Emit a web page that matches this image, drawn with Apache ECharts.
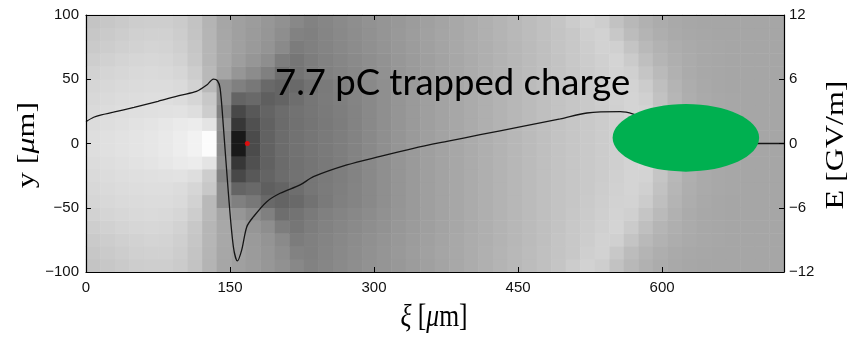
<!DOCTYPE html>
<html><head><meta charset="utf-8">
<script src="https://cdn.jsdelivr.net/npm/echarts@6/dist/echarts.min.js"></script>
<style>html,body{margin:0;padding:0;background:#fff;}#c{width:851px;height:341px;}</style>
</head><body><div id="c"></div>
<script>
// ---- data ----
const xiTicks = [0, 150, 300, 450, 600];
const yTicks = [-100, -50, 0, 50, 100];
const eTicks = [-12, -6, 0, 6, 12];
const xiMax = 727;

// on-axis field E (GV/m) vs xi (um)
const lineXi = [0, 8, 16, 28.5, 50, 75, 98, 115, 125.8, 132.7, 136.9, 139.7, 143.1, 148.3, 153.5, 157.7, 162.2, 167.5, 174.5, 188.3, 202.2, 223, 236.9, 271.7, 306.4, 341.1, 375.9, 410.6, 452, 494, 521.8, 556.5, 570, 600, 640, 680, 700, 727];
const lineE  = [2.04, 2.45, 2.68, 2.92, 3.38, 3.94, 4.5, 4.86, 5.46, 6.02, 5.86, 5.15, 1.57, -4.65, -9.64, -10.97, -9.94, -7.77, -6.83, -5.43, -4.65, -3.87, -3.1, -2.0, -1.2, -0.45, 0.2, 0.82, 1.55, 2.3, 2.85, 2.97, 2.75, 1.8, 0.6, 0.1, 0.0, 0.0];

// driver bunch (ellipse): centre xi, centre y, half length, half width (um)
const bunchXi = [624.8];
const bunchY = [4.4];
const bunchHalfLen = [76.3];
const bunchHalfWid = [26.3];

// trapped witness charge
const witnessXi = [168];
const witnessY = [0];
const annotation = '7.7 pC trapped charge';

// background field, grey level (0 black .. 255 white), 48 xi columns, rows by |y| (um)
const rowAbsY = [5, 15, 25, 35, 45, 55, 65, 75, 85, 95];
const field_y05 = [222,224,226,228,230,233,237,242,252,140,25,75,98,108,114,118,122,126,131,137,143,149,154,159,163,167,171,175,179,183,187,191,195,198,201,204,207,211,213,200,186,176,171,168,167,166,166,166];
const field_y15 = [220,222,224,226,228,231,234,236,228,145,55,80,97,107,113,117,121,125,131,137,143,149,154,159,163,167,171,175,179,183,187,191,195,198,201,204,207,211,213,200,186,176,171,168,167,166,166,166];
const field_y25 = [218,220,222,223,224,225,226,222,205,130,72,88,100,108,114,118,122,126,131,137,143,149,154,159,163,167,171,175,179,183,187,191,195,198,201,204,208,212,211,197,184,175,170,168,167,166,166,166];
const field_y35 = [216,218,220,221,222,222,220,214,200,140,100,105,95,100,110,118,123,127,132,137,143,149,154,159,163,167,171,175,179,183,187,191,195,198,201,205,209,212,208,194,182,174,170,168,167,166,166,166];
const field_y45 = [214,216,218,219,220,220,218,210,185,140,128,120,105,100,105,114,122,128,132,137,143,149,154,159,163,167,171,175,179,183,187,191,195,198,202,206,210,211,204,191,180,173,169,167,166,166,166,166];
const field_y55 = [210,213,215,217,218,217,214,205,185,165,150,140,128,110,115,122,128,132,136,140,145,150,154,159,163,167,171,175,179,183,187,191,195,199,203,207,211,208,197,186,177,171,168,167,166,166,166,166];
const field_y65 = [206,209,212,214,215,214,210,200,182,168,158,150,142,125,118,125,130,134,138,142,146,151,155,159,163,167,171,175,179,183,187,191,195,200,204,208,212,203,191,181,175,171,168,167,166,166,166,166];
const field_y75 = [202,205,208,210,212,211,207,198,182,168,160,154,148,138,124,128,132,136,140,144,148,152,156,160,164,168,172,175,179,183,187,191,196,200,205,210,208,196,185,178,173,170,168,167,166,166,166,166];
const field_y85 = [199,202,205,208,209,209,205,196,181,167,160,155,150,142,130,128,133,137,141,145,149,153,157,161,165,168,172,176,180,184,188,192,196,200,207,210,200,188,180,174,170,168,167,166,166,166,166,166];
const field_y95 = [196,199,202,205,206,206,203,195,180,166,160,156,151,145,136,130,134,138,142,146,149,152,156,160,164,168,172,176,180,184,188,192,197,204,210,206,194,184,177,172,169,167,166,166,166,166,166,166];
const fieldRows = [field_y05, field_y15, field_y25, field_y35, field_y45, field_y55, field_y65, field_y75, field_y85, field_y95];

// ---- build ----
const nCols = field_y05.length;
const rowCats = [];
for (let i = rowAbsY.length - 1; i >= 0; i--) rowCats.push(-rowAbsY[i]);
for (let i = 0; i < rowAbsY.length; i++) rowCats.push(rowAbsY[i]);
const colCats = field_y05.map((_, i) => i);
const heat = [];
rowCats.forEach((yv, r) => {
  const row = fieldRows[rowAbsY.indexOf(Math.abs(yv))];
  for (let c = 0; c < nCols; c++) heat.push([c, r, row[c]]);
});
const lineData = lineXi.map((x, i) => [x, lineE[i]]);
const bunchData = bunchXi.map((x, i) => [x, bunchY[i], bunchHalfLen[i], bunchHalfWid[i]]);
const witnessData = witnessXi.map((x, i) => [x, witnessY[i]]);

const minus = v => String(v).replace('-', '\u2212');
const tickFont = {color: '#111', fontFamily: 'Liberation Sans', fontSize: 15};
const gridPos = {left: 86, right: 67, top: 15, bottom: 69};
const axLine = {show: true, onZero: false, lineStyle: {color: '#000', width: 1.2}};
const axTick = {show: true, inside: true, length: 5, lineStyle: {color: '#000', width: 1}};

const chart = echarts.init(document.getElementById('c'), null, {renderer: 'canvas'});
chart.setOption({
  animation: false,
  backgroundColor: '#fff',
  grid: [Object.assign({}, gridPos), Object.assign({}, gridPos)],
  visualMap: {type: 'continuous', show: false, min: 0, max: 255, seriesIndex: 0, inRange: {color: ['#000000', '#ffffff']}},
  xAxis: [
    {type: 'value', gridIndex: 0, position: 'bottom', min: 0, max: xiMax, interval: 150, z: 5,
     axisLine: axLine, axisTick: axTick, splitLine: {show: false},
     axisLabel: Object.assign({margin: 8, formatter: v => xiTicks.includes(v) ? minus(v) : ''}, tickFont)},
    {type: 'value', gridIndex: 0, position: 'top', min: 0, max: xiMax, interval: 150, z: 5,
     axisLine: axLine, axisTick: axTick, splitLine: {show: false}, axisLabel: {show: false}},
    {type: 'category', gridIndex: 1, data: colCats, show: false, boundaryGap: true}
  ],
  yAxis: [
    {type: 'value', gridIndex: 0, position: 'left', min: -100, max: 100, interval: 50, z: 5,
     axisLine: axLine, axisTick: axTick, splitLine: {show: false},
     axisLabel: Object.assign({margin: 7, formatter: v => yTicks.includes(v) ? minus(v) : ''}, tickFont)},
    {type: 'value', gridIndex: 0, position: 'right', min: -12, max: 12, interval: 6, z: 5,
     axisLine: axLine, axisTick: axTick, splitLine: {show: false},
     axisLabel: Object.assign({margin: 5, formatter: v => eTicks.includes(v) ? minus(v) : ''}, tickFont)},
    {type: 'category', gridIndex: 1, data: rowCats, show: false, boundaryGap: true}
  ],
  series: [
    {type: 'heatmap', xAxisIndex: 2, yAxisIndex: 2, data: heat, silent: true, z: 1, progressive: 0,
     emphasis: {disabled: true}},
    {type: 'line', xAxisIndex: 0, yAxisIndex: 1, data: lineData, showSymbol: false, silent: true, z: 3,
     smooth: 0.3, lineStyle: {color: '#151515', width: 1.3}},
    {type: 'custom', xAxisIndex: 0, yAxisIndex: 0, data: bunchData, silent: true, z: 4,
     renderItem: (params, api) => {
       const c = api.coord([api.value(0), api.value(1)]);
       const s = api.size([api.value(2), api.value(3)]);
       return {type: 'ellipse', shape: {cx: c[0], cy: c[1], rx: s[0], ry: s[1]}, style: {fill: '#00b050'}};
     }},
    {type: 'scatter', xAxisIndex: 0, yAxisIndex: 0, data: witnessData, symbol: 'circle', symbolSize: 5, silent: true, z: 4,
     itemStyle: {color: '#ff0000'}}
  ],
  graphic: [
    {type: 'text', x: 275, y: 83, z: 100, style: {text: annotation, font: '36.5px Lato', fill: '#000', align: 'left', verticalAlign: 'middle'}},
    {type: 'text', x: 27, y: 145, rotation: Math.PI / 2, scaleY: 0.8, z: 100,
     style: {text: '{r|y [}{i|\u03bc}{r|m]}', align: 'center', verticalAlign: 'middle',
       rich: {r: {fontFamily: 'Liberation Serif', fontSize: 32, fill: '#000'}, i: {fontFamily: 'Liberation Serif', fontStyle: 'italic', fontSize: 32, fill: '#000'}}}},
    {type: 'text', x: 434, y: 318, scaleX: 0.8, z: 100,
     style: {text: '{i|\u03be}{r| [}{i|\u03bc}{r|m]}', align: 'center', verticalAlign: 'middle',
       rich: {r: {fontFamily: 'Liberation Serif', fontSize: 32, fill: '#000'}, i: {fontFamily: 'Liberation Serif', fontStyle: 'italic', fontSize: 32, fill: '#000'}}}},
    {type: 'text', x: 836, y: 145, rotation: Math.PI / 2, scaleY: 0.8, z: 100,
     style: {text: 'E [GV/m]', font: '32px "Liberation Serif"', fill: '#000', align: 'center', verticalAlign: 'middle'}}
  ]
});
</script></body></html>
